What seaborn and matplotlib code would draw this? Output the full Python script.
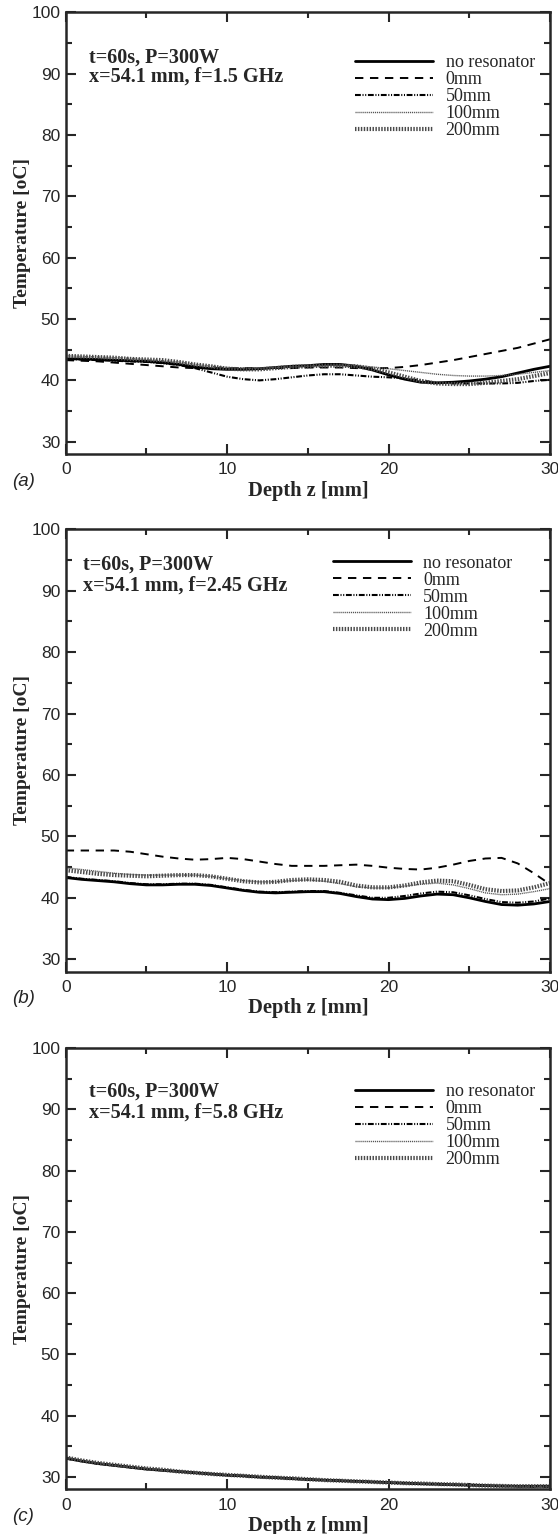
import numpy as np
import pandas as pd
import matplotlib
matplotlib.use("Agg")
import matplotlib.pyplot as plt
from matplotlib.ticker import MultipleLocator
import seaborn as sns

sns.set_style("ticks")
plt.rcParams['font.family'] = ['Liberation Sans', 'DejaVu Sans']

depth = list(range(0, 31))
series_labels = ["no resonator", "0mm", "50mm", "100mm", "200mm"]

# f = 1.5 GHz
a_none = [43.5, 43.5, 43.4, 43.3, 43.2, 43.1, 42.9, 42.6, 42.2, 41.9, 41.8, 41.8, 41.9, 42.1, 42.3, 42.4,
          42.6, 42.6, 42.3, 41.7, 40.9, 40.2, 39.7, 39.6, 39.7, 39.9, 40.2, 40.6, 41.2, 41.8, 42.3]
a_0 = [43.3, 43.2, 43.1, 42.9, 42.7, 42.5, 42.3, 42.1, 42.0, 42.0, 42.0, 42.0, 42.0, 42.0, 42.0, 42.1,
       42.1, 42.1, 42.0, 42.0, 42.0, 42.2, 42.5, 42.9, 43.3, 43.8, 44.3, 44.8, 45.3, 46.0, 46.7]
a_50 = [43.5, 43.4, 43.3, 43.2, 43.1, 43.0, 42.8, 42.5, 42.0, 41.3, 40.6, 40.2, 40.0, 40.2, 40.5, 40.8,
        41.0, 41.0, 40.8, 40.6, 40.5, 40.3, 40.0, 39.6, 39.5, 39.5, 39.5, 39.5, 39.6, 39.9, 40.1]
a_100 = [44.0, 43.9, 43.8, 43.7, 43.6, 43.4, 43.2, 43.0, 42.6, 42.3, 42.1, 42.0, 42.0, 42.1, 42.2, 42.3,
         42.4, 42.5, 42.4, 42.2, 41.9, 41.6, 41.3, 41.0, 40.8, 40.7, 40.7, 40.8, 41.0, 41.3, 41.6]
a_200 = [44.0, 43.9, 43.8, 43.7, 43.5, 43.4, 43.3, 43.0, 42.6, 42.3, 41.9, 41.8, 41.8, 42.0, 42.2, 42.3,
         42.4, 42.4, 42.3, 41.9, 41.3, 40.6, 39.9, 39.5, 39.4, 39.4, 39.6, 39.9, 40.2, 40.7, 41.2]

# f = 2.45 GHz
b_none = [43.3, 43.0, 42.8, 42.6, 42.3, 42.1, 42.1, 42.2, 42.2, 42.0, 41.6, 41.2, 40.9, 40.8, 40.9, 41.0,
          41.0, 40.7, 40.2, 39.8, 39.7, 39.9, 40.3, 40.6, 40.5, 40.0, 39.4, 38.9, 38.8, 39.0, 39.4]
b_0 = [47.7, 47.7, 47.7, 47.7, 47.5, 47.1, 46.7, 46.4, 46.2, 46.3, 46.5, 46.3, 45.9, 45.5, 45.2, 45.2,
       45.2, 45.3, 45.4, 45.2, 44.9, 44.7, 44.6, 44.9, 45.4, 46.0, 46.4, 46.5, 45.6, 44.0, 42.2]
b_50 = [43.4, 43.1, 42.9, 42.7, 42.4, 42.2, 42.2, 42.3, 42.3, 42.1, 41.7, 41.3, 41.0, 40.9, 41.0, 41.1,
        41.1, 40.8, 40.4, 40.0, 40.0, 40.3, 40.7, 41.0, 40.9, 40.4, 39.8, 39.3, 39.2, 39.4, 39.9]
b_100 = [44.9, 44.6, 44.3, 44.0, 43.8, 43.7, 43.7, 43.7, 43.7, 43.5, 43.1, 42.8, 42.6, 42.6, 42.8, 42.9,
         42.7, 42.3, 41.8, 41.6, 41.6, 41.9, 42.2, 42.4, 42.1, 41.5, 40.8, 40.5, 40.6, 41.0, 41.5]
b_200 = [44.5, 44.2, 43.9, 43.7, 43.6, 43.5, 43.6, 43.7, 43.7, 43.5, 43.1, 42.7, 42.5, 42.6, 42.9, 43.0,
         42.9, 42.6, 42.0, 41.7, 41.7, 42.0, 42.5, 42.8, 42.7, 42.1, 41.4, 41.1, 41.2, 41.7, 42.4]

# f = 5.8 GHz
c_none = [33.1, 32.6, 32.2, 31.9, 31.6, 31.3, 31.1, 30.9, 30.7, 30.5, 30.3, 30.2, 30.0, 29.9, 29.75, 29.6,
          29.5, 29.4, 29.3, 29.2, 29.1, 29.0, 28.9, 28.85, 28.75, 28.7, 28.6, 28.55, 28.5, 28.5, 28.5]
c_0 = [33.1, 32.6, 32.2, 31.9, 31.6, 31.3, 31.1, 30.9, 30.7, 30.5, 30.3, 30.2, 30.0, 29.9, 29.75, 29.6,
       29.5, 29.4, 29.3, 29.2, 29.1, 29.0, 28.9, 28.85, 28.75, 28.7, 28.6, 28.55, 28.5, 28.5, 28.5]
c_50 = [33.0, 32.6, 32.2, 31.9, 31.6, 31.3, 31.1, 30.9, 30.7, 30.5, 30.3, 30.15, 30.0, 29.9, 29.7, 29.6,
        29.5, 29.4, 29.3, 29.2, 29.1, 29.0, 28.9, 28.8, 28.75, 28.65, 28.6, 28.5, 28.5, 28.45, 28.45]
c_100 = [33.2, 32.7, 32.3, 31.9, 31.6, 31.4, 31.1, 30.9, 30.7, 30.5, 30.35, 30.2, 30.05, 29.9, 29.75, 29.6,
         29.5, 29.4, 29.3, 29.2, 29.1, 29.0, 28.95, 28.85, 28.75, 28.7, 28.6, 28.55, 28.5, 28.5, 28.5]
c_200 = [33.2, 32.7, 32.3, 32.0, 31.7, 31.4, 31.2, 30.9, 30.7, 30.5, 30.35, 30.2, 30.05, 29.9, 29.8, 29.65,
         29.5, 29.4, 29.3, 29.2, 29.1, 29.0, 28.95, 28.85, 28.8, 28.7, 28.6, 28.55, 28.5, 28.5, 28.5]

panel_series = [[a_none, a_0, a_50, a_100, a_200],
                [b_none, b_0, b_50, b_100, b_200],
                [c_none, c_0, c_50, c_100, c_200]]
panel_line1 = ["t=60s, P=300W", "t=60s, P=300W", "t=60s, P=300W"]
panel_line2 = ["x=54.1 mm, f=1.5 GHz", "x=54.1 mm, f=2.45 GHz", "x=54.1 mm, f=5.8 GHz"]
panel_tags = ["(a)", "(b)", "(c)"]
x_ticks = [0, 10, 20, 30]
y_ticks = [30, 40, 50, 60, 70, 80, 90, 100]

styles = [
    dict(color="black", lw=2.0, linestyle="-"),
    dict(color="black", lw=1.4, linestyle=(0, (4.3, 3.4))),
    dict(color="black", lw=1.5, linestyle=(0, (2.8, 0.8, 0.5, 0.8, 0.5, 0.8))),
    dict(color="#555555", lw=1.0, linestyle=(0, (0.8, 0.6))),
    dict(color="#4a4a4a", lw=3.0, linestyle=(0, (0.35, 0.35))),
]

W, H = 558, 1534
fig = plt.figure(figsize=(W / 100, H / 100), dpi=100)

# pixel boxes (top, bottom) for each panel
boxes = [(12.3, 454), (529.3, 971.5), (1048, 1489.3)]
left_px, right_px = 65.7, 550
text_x = [0.048, 0.036, 0.048]
text_y1 = [0.886, 0.908, 0.890]
text_y2 = [0.843, 0.862, 0.843]
leg_pos = [(0.598, 0.905), (0.552, 0.943), (0.598, 0.921)]

serif = ['Liberation Serif', 'DejaVu Serif']

for i in range(3):
    top, bot = boxes[i]
    ax = fig.add_axes([left_px / W, 1 - bot / H, (right_px - left_px) / W, (bot - top) / H])
    for vals, lab, st in zip(panel_series[i], series_labels, styles):
        sns.lineplot(x=depth, y=vals, ax=ax, label=lab, **st)
    ax.set_xlim(0, 30)
    ax.set_ylim(28, 100)
    ax.set_xticks(x_ticks)
    ax.set_yticks(y_ticks)
    ax.xaxis.set_minor_locator(MultipleLocator(5))
    ax.yaxis.set_minor_locator(MultipleLocator(5))
    ax.tick_params(which='both', direction='in', top=True, right=True, width=1.5, labelsize=12.5)
    ax.tick_params(which='major', length=7)
    ax.tick_params(axis='x', which='major', pad=6)
    ax.tick_params(axis='y', which='major', pad=4)
    ax.tick_params(which='minor', length=4)
    for sp in ax.spines.values():
        sp.set_linewidth(1.8)
    ax.set_xlabel("Depth z [mm]", fontsize=14.8, fontweight='bold', family=serif)
    ax.set_ylabel("Temperature [oC]", fontsize=14, fontweight='bold', family=serif)
    ax.xaxis.set_label_coords(0.5, -0.061)
    ax.yaxis.set_label_coords(-0.072, 0.5)
    ax.text(text_x[i], text_y1[i], panel_line1[i], transform=ax.transAxes,
            fontsize=14.5, fontweight='bold', family=serif, va='baseline', ha='left')
    ax.text(text_x[i], text_y2[i], panel_line2[i], transform=ax.transAxes,
            fontsize=14.5, fontweight='bold', family=serif, va='baseline', ha='left')
    leg = ax.legend(loc='upper left', bbox_to_anchor=leg_pos[i], frameon=False,
                    prop={'family': serif, 'size': 13}, handlelength=4.3, handletextpad=0.7,
                    labelspacing=0.0, borderpad=0, borderaxespad=0)
    fig.text(12 / W, 1 - (bot + 27) / H, panel_tags[i], fontsize=13.5, style='italic',
             ha='left', va='center')

fig.savefig("out.png", dpi=100)
